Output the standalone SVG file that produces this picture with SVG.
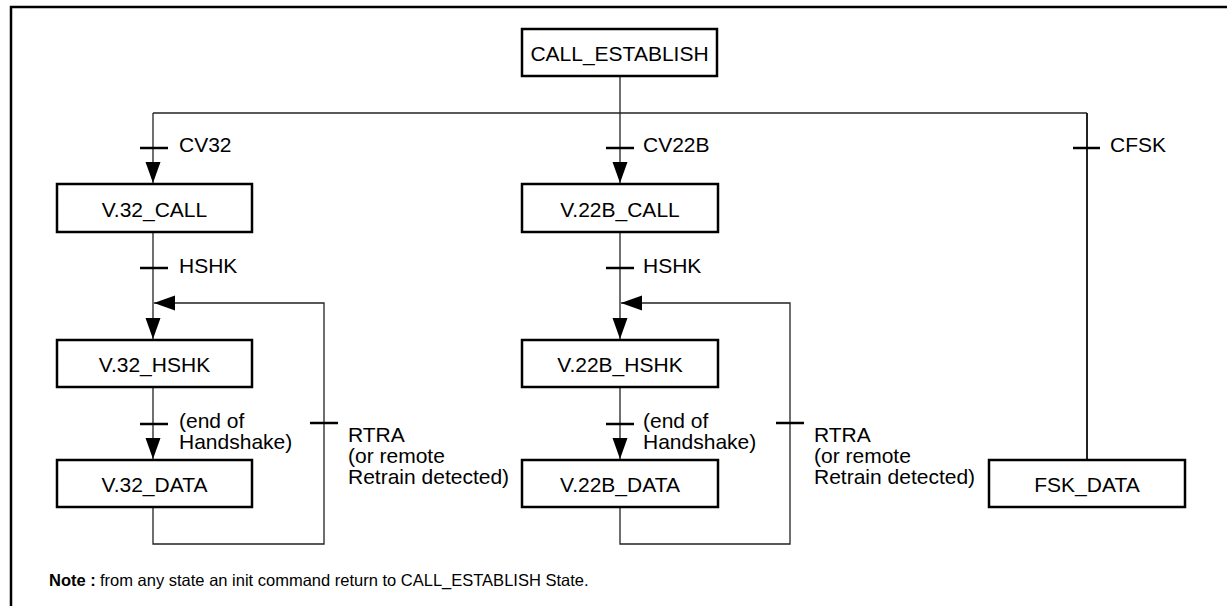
<svg xmlns="http://www.w3.org/2000/svg" width="1227" height="606" viewBox="0 0 1227 606">
<style>
.box{fill:#fff;stroke:#000;stroke-width:2.5}
.nt{font-family:"Liberation Sans",Arial,sans-serif;font-size:21px;fill:#000;text-anchor:middle}
.lb{font-family:"Liberation Sans",Arial,sans-serif;font-size:21px;fill:#000}
.ln{fill:none;stroke:#222;stroke-width:1.3}
.tk{stroke:#000;stroke-width:2.5}
.fr{fill:none;stroke:#000;stroke-width:2.5}
.note{font-family:"Liberation Sans",Arial,sans-serif;font-size:16.5px;fill:#000}
</style>
<defs>
<marker id="arr" markerUnits="userSpaceOnUse" markerWidth="22" markerHeight="16" refX="21" refY="7.5" orient="auto">
<path d="M0,0 L21,7.5 L0,15 z" fill="#000"/>
</marker>
</defs>
<rect width="1227" height="606" fill="#fff"/>
<path class="fr" d="M11,606 L11,7 L1227,7"/>

<g id="connectors">
<path class="ln" d="M620,76 L620,183" marker-end="url(#arr)"/>
<path class="ln" d="M153,113 L1087,113"/>
<path class="ln" d="M153,113 L153,183" marker-end="url(#arr)"/>
<path class="ln" style="stroke-width:2" d="M1087,113 L1087,460"/>
<path class="ln" d="M153,232 L153,339" marker-end="url(#arr)"/>
<path class="ln" d="M620,232 L620,339" marker-end="url(#arr)"/>
<path class="ln" d="M153,387 L153,459" marker-end="url(#arr)"/>
<path class="ln" d="M620,387 L620,459" marker-end="url(#arr)"/>
<path class="ln" d="M153,507 L153,544 L324,544 L324,303 L154,303" marker-end="url(#arr)"/>
<path class="ln" d="M620,507 L620,544 L790,544 L790,303 L621,303" marker-end="url(#arr)"/>
<line class="tk" x1="140" y1="148" x2="168" y2="148"/>
<line class="tk" x1="606" y1="148" x2="634" y2="148"/>
<line class="tk" x1="1073" y1="148" x2="1100" y2="148"/>
<line class="tk" x1="140" y1="268" x2="168" y2="268"/>
<line class="tk" x1="606" y1="268" x2="634" y2="268"/>
<line class="tk" x1="140" y1="424" x2="168" y2="424"/>
<line class="tk" x1="606" y1="424" x2="634" y2="424"/>
<line class="tk" x1="310" y1="423" x2="338" y2="423"/>
<line class="tk" x1="776" y1="423" x2="804" y2="423"/>
<text class="lb" x="179" y="152">CV32</text>
<text class="lb" x="643" y="152">CV22B</text>
<text class="lb" x="1110" y="152">CFSK</text>
<text class="lb" x="179" y="273">HSHK</text>
<text class="lb" x="643" y="273">HSHK</text>
<text class="lb" x="179" y="428">(end of</text>
<text class="lb" x="179" y="449">Handshake)</text>
<text class="lb" x="643" y="428">(end of</text>
<text class="lb" x="643" y="449">Handshake)</text>
<text class="lb" x="348" y="442">RTRA</text>
<text class="lb" x="348" y="463">(or remote</text>
<text class="lb" x="348" y="484">Retrain detected)</text>
<text class="lb" x="814" y="442">RTRA</text>
<text class="lb" x="814" y="463">(or remote</text>
<text class="lb" x="814" y="484">Retrain detected)</text>
</g>

<g id="call_establish"><rect class="box" x="522" y="29" width="195" height="47"/><text class="nt" x="619.5" y="61">CALL_ESTABLISH</text></g>
<g id="v32_call"><rect class="box" x="57" y="184" width="195" height="48"/><text class="nt" x="154.5" y="216.5">V.32_CALL</text></g>
<g id="v22b_call"><rect class="box" x="522" y="184" width="196" height="48"/><text class="nt" x="620" y="216.5">V.22B_CALL</text></g>
<g id="v32_hshk"><rect class="box" x="57" y="340" width="195" height="47"/><text class="nt" x="154.5" y="372">V.32_HSHK</text></g>
<g id="v22b_hshk"><rect class="box" x="522" y="340" width="196" height="47"/><text class="nt" x="620" y="372">V.22B_HSHK</text></g>
<g id="v32_data"><rect class="box" x="57" y="460" width="195" height="47"/><text class="nt" x="154.5" y="492">V.32_DATA</text></g>
<g id="v22b_data"><rect class="box" x="522" y="460" width="196" height="47"/><text class="nt" x="620" y="492">V.22B_DATA</text></g>
<g id="fsk_data"><rect class="box" x="989" y="460" width="196" height="47"/><text class="nt" x="1087" y="492">FSK_DATA</text></g>

<g id="note">
<text class="note" x="49" y="586" font-weight="bold">Note :</text>
<text class="note" x="100" y="586">from any state an init command return to CALL_ESTABLISH State.</text>
</g>
</svg>
